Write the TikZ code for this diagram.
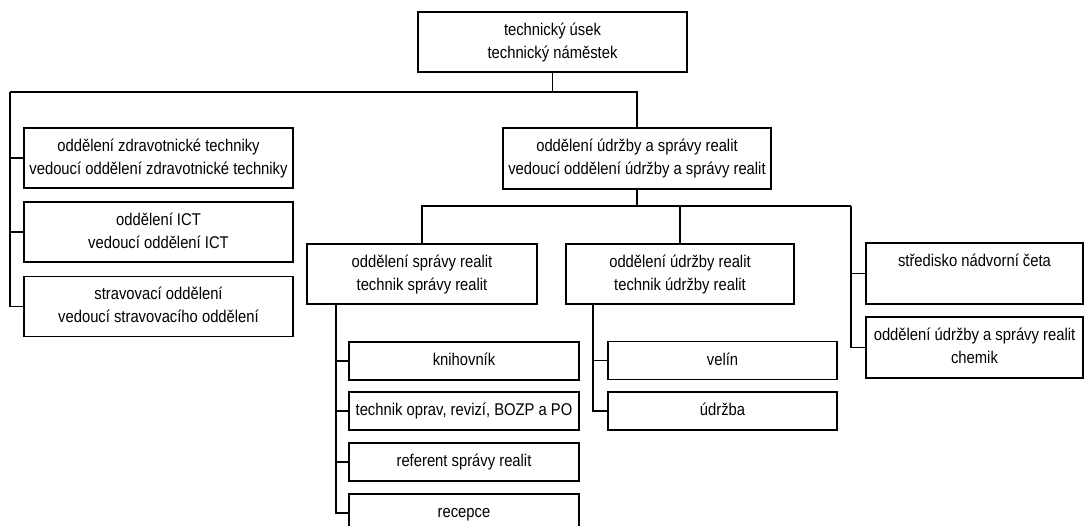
\documentclass[tikz,border=0pt]{standalone}
\usepackage{fontspec}
\setmainfont{Liberation Sans}[FakeStretch=0.87]
\begin{document}
\begin{tikzpicture}[x=1pt,y=-1pt,
  box/.style={draw, line width=1.1pt, inner sep=0pt, align=center,
    font=\fontsize{17}{23}\selectfont},
  conn/.style={draw, line width=1.1pt}]
\useasboundingbox (0,0) rectangle (1087,526);
% level 0
\node[box, minimum width=269pt, minimum height=60pt] (top) at (552.5,42) {\strut technický úsek\\\strut technický náměstek};
% level 1
\node[box, minimum width=269pt, minimum height=60pt] (zdrav) at (158.5,158) {\strut oddělení zdravotnické techniky\\\strut vedoucí oddělení zdravotnické techniky};
\node[box, minimum width=269pt, minimum height=60pt] (ict) at (158.5,232) {\strut oddělení ICT\\\strut vedoucí oddělení ICT};
\node[box, minimum width=269pt, minimum height=60pt] (strav) at (158.5,306.5) {\strut stravovací oddělení\\\strut vedoucí stravovacího oddělení};
\node[box, minimum width=268pt, minimum height=61pt] (udrzsprav) at (637,158.5) {\strut oddělení údržby a správy realit\\\strut vedoucí oddělení údržby a správy realit};
% level 2
\node[box, minimum width=230pt, minimum height=60pt] (sprav) at (422,274) {\strut oddělení správy realit\\\strut technik správy realit};
\node[box, minimum width=228pt, minimum height=60pt] (udrzreal) at (680,274) {\strut oddělení údržby realit\\\strut technik údržby realit};
\node[box, minimum width=217pt, minimum height=61pt] (stred) at (974.5,273.5) {\strut středisko nádvorní četa\\\strut};
\node[box, minimum width=217pt, minimum height=61pt] (chemik) at (974.5,347.5) {\strut oddělení údržby a správy realit\\\strut chemik};
% level 3
\node[box, minimum width=230pt, minimum height=38pt] (knih) at (464,361) {\strut knihovník};
\node[box, minimum width=230pt, minimum height=38pt] (techop) at (464,411) {\strut technik oprav, revizí, BOZP a PO};
\node[box, minimum width=230pt, minimum height=38pt] (refer) at (464,462) {\strut referent správy realit};
\node[box, minimum width=230pt, minimum height=38pt] (recep) at (464,513) {\strut recepce};
\node[box, minimum width=229pt, minimum height=38pt] (velin) at (722.5,360.5) {\strut velín};
\node[box, minimum width=229pt, minimum height=38pt] (udrzba) at (722.5,411) {\strut údržba};
% connectors level 0 -> 1
\coordinate (lsp) at (10,92);
\draw[conn] (top.south) -- (top.south |- lsp);
\draw[conn] (lsp) -- (udrzsprav.north |- lsp) -- (udrzsprav.north);
\draw[conn] (lsp) |- (zdrav.west);
\draw[conn] (lsp) |- (ict.west);
\draw[conn] (lsp) |- (strav.west);
% connectors level 1 -> 2
\coordinate (h2) at (0,206);
\coordinate (rsp) at (851,206);
\draw[conn] (udrzsprav.south) -- (udrzsprav.south |- h2);
\draw[conn] (sprav.north) -- (sprav.north |- h2) -- (rsp);
\draw[conn] (udrzreal.north |- h2) -- (udrzreal.north);
\draw[conn] (rsp) |- (stred.west);
\draw[conn] (rsp) |- (chemik.west);
% connectors level 2 -> 3
\coordinate (s3) at (336,304);
\coordinate (u3) at (593,304);
\draw[conn] (s3) |- (knih.west);
\draw[conn] (s3) |- (techop.west);
\draw[conn] (s3) |- (refer.west);
\draw[conn] (s3) |- (recep.west);
\draw[conn] (u3) |- (velin.west);
\draw[conn] (u3) |- (udrzba.west);
\end{tikzpicture}
\end{document}
